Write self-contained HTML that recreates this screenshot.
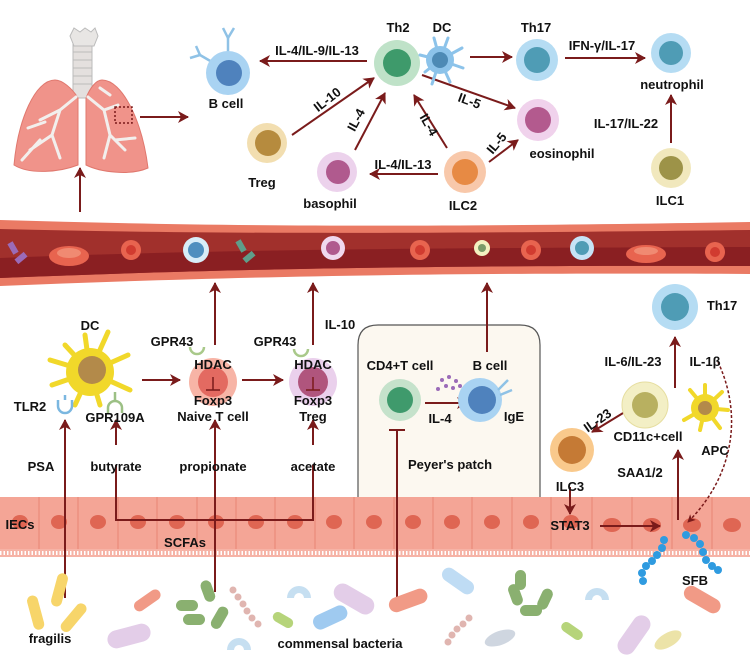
<!DOCTYPE html>
<html><head><meta charset="utf-8"><style>
html,body{margin:0;padding:0;background:#fff}
svg{display:block}
text{font-family:"Liberation Sans",Arial,sans-serif;font-weight:bold;fill:#111;font-size:13px;text-anchor:middle}
</style></head><body>
<svg width="750" height="656" viewBox="0 0 750 656" xmlns="http://www.w3.org/2000/svg">
<defs>
<marker id="a" markerWidth="8" markerHeight="8" refX="7" refY="4" orient="auto" markerUnits="userSpaceOnUse"><path d="M0,0 L8,4 L0,8 L2,4z" fill="#7a1b1b"/></marker>
<marker id="ab" markerWidth="12" markerHeight="12" refX="10" refY="6" orient="auto" markerUnits="userSpaceOnUse"><path d="M0,0 L11,6 L0,12 L3,6z" fill="#7a1b1b"/></marker>
</defs>
<g stroke="#7a1b1b" stroke-width="2" fill="none">
</g>

<!-- LUNGS -->
<rect x="73" y="40" width="19" height="58" fill="#e4e0de" stroke="#bbb"/>
<g stroke="#bbb" stroke-width="1"><line x1="73" y1="52" x2="92" y2="52"/><line x1="73" y1="60" x2="92" y2="60"/><line x1="73" y1="68" x2="92" y2="68"/><line x1="73" y1="76" x2="92" y2="76"/><line x1="73" y1="84" x2="92" y2="84"/></g>
<path d="M70,36 l4,-8 l6,4 l5,-4 l6,4 l4,-4 l3,8 l-4,10 h-20z" fill="#e8e6e4" stroke="#bbb"/>
<path d="M55,80 C35,80 18,120 14,165 C30,175 60,172 78,165 L78,98 C72,88 62,80 55,80z" fill="#f0938a" stroke="#e0786e"/>
<path d="M102,80 C122,80 142,120 148,168 C130,176 100,172 86,165 L86,98 C90,88 96,80 102,80z" fill="#f0938a" stroke="#e0786e"/>
<g stroke="#f2efed" stroke-width="3" fill="none" stroke-linecap="round">
<path d="M76,97 L60,110 L40,120 M60,110 L52,135 L30,150 M52,135 L60,158 M45,122 L28,128 M40,140 L22,160"/>
<path d="M88,97 L104,110 L118,105 M104,110 L110,135 L125,150 M110,135 L104,158 M110,95 L100,88 M115,140 L135,138"/>
</g>
<rect x="115" y="107" width="17" height="16" fill="none" stroke="#7a1b1b" stroke-dasharray="2,2" stroke-width="1.5"/>

<g stroke="#7a1b1b" stroke-width="2" fill="none" marker-end="url(#ab)">
<line x1="140" y1="117" x2="188" y2="117"/>
<line x1="80" y1="212" x2="80" y2="168"/>
<line x1="367" y1="61" x2="260" y2="61"/>
<line x1="292" y1="135" x2="374" y2="78"/>
<line x1="355" y1="150" x2="385" y2="93"/>
<line x1="470" y1="57" x2="512" y2="57"/>
<line x1="565" y1="58" x2="645" y2="58"/>
<line x1="671" y1="143" x2="671" y2="95"/>
<line x1="422" y1="75" x2="515" y2="108"/>
<line x1="447" y1="148" x2="414" y2="95"/>
<line x1="489" y1="162" x2="518" y2="140"/>
<line x1="438" y1="174" x2="370" y2="174"/>
</g>

<!-- top cells -->
<g stroke="#8fc2e6" stroke-width="2.5"><line x1="228" y1="52" x2="228" y2="38"/><line x1="228" y1="38" x2="223" y2="28"/><line x1="228" y1="38" x2="234" y2="28"/><line x1="212" y1="62" x2="200" y2="55"/><line x1="200" y1="55" x2="190" y2="58"/><line x1="200" y1="55" x2="196" y2="46"/></g>
<circle cx="228" cy="73" r="22" fill="#a9d3f2"/><circle cx="229" cy="73" r="13" fill="#4f82bd"/>
<circle cx="267" cy="143" r="20" fill="#f2deb0"/><circle cx="268" cy="143" r="13" fill="#b68b3e"/>
<circle cx="337" cy="172" r="20" fill="#ecd2ec"/><circle cx="338" cy="172" r="12" fill="#b05a8e"/>
<circle cx="397" cy="63" r="23" fill="#bfe2c8"/><circle cx="397" cy="63" r="14" fill="#3e9a6b"/>
<g stroke="#8cc3ea" stroke-width="3" stroke-linecap="round"><line x1="440" y1="60" x2="420" y2="55"/><line x1="440" y1="60" x2="425" y2="72"/><line x1="440" y1="60" x2="434" y2="38"/><line x1="440" y1="60" x2="448" y2="38"/><line x1="440" y1="60" x2="462" y2="48"/><line x1="440" y1="60" x2="463" y2="68"/><line x1="440" y1="60" x2="450" y2="82"/><line x1="440" y1="60" x2="432" y2="84"/></g>
<circle cx="440" cy="60" r="14" fill="#8cc3ea"/><circle cx="440" cy="60" r="8" fill="#4d8ab5"/>
<circle cx="537" cy="60" r="21" fill="#b5dcf3"/><circle cx="537" cy="60" r="13" fill="#4f9cb5"/>
<circle cx="671" cy="53" r="20" fill="#b5dcf3"/><circle cx="671" cy="53" r="12" fill="#4f9cb5"/>
<circle cx="538" cy="120" r="21" fill="#f0d2ec"/><circle cx="538" cy="120" r="13" fill="#b35a8e"/>
<circle cx="465" cy="172" r="21" fill="#f8c8aa"/><circle cx="465" cy="172" r="13" fill="#e78a44"/>
<circle cx="671" cy="168" r="20" fill="#f1e8bd"/><circle cx="671" cy="168" r="12" fill="#9d9348"/>

<text x="226" y="108">B cell</text>
<text x="317" y="55">IL-4/IL-9/IL-13</text>
<text x="262" y="187">Treg</text>
<text x="330" y="208">basophil</text>
<text x="398" y="32">Th2</text>
<text x="442" y="32">DC</text>
<text x="536" y="32">Th17</text>
<text x="602" y="50">IFN-γ/IL-17</text>
<text x="672" y="89">neutrophil</text>
<text x="626" y="128">IL-17/IL-22</text>
<text x="670" y="205">ILC1</text>
<text x="562" y="158">eosinophil</text>
<text x="463" y="210">ILC2</text>
<text x="403" y="169">IL-4/IL-13</text>
<text transform="translate(330,103) rotate(-38)">IL-10</text>
<text transform="translate(360,122) rotate(-62)">IL-4</text>
<text transform="translate(425,127) rotate(60)">IL-4</text>
<text transform="translate(468,105) rotate(20)">IL-5</text>
<text transform="translate(500,146) rotate(-50)">IL-5</text>

<!-- VESSEL -->
<path d="M0,220 C200,226 400,228 750,222 L750,274 C400,272 200,278 0,286z" fill="#ea7a64"/>
<path d="M0,229 C200,234 400,234 750,230 L750,266 C400,265 200,270 0,278z" fill="#a1302c"/>
<path d="M0,258 C200,250 400,248 750,247 L750,266 C400,265 200,270 0,278z" fill="#8a1f22"/>
<g fill="#9b6bb8"><rect x="10" y="242" width="6" height="12" transform="rotate(-30 13 248)"/><rect x="18" y="252" width="6" height="12" transform="rotate(50 21 258)"/></g>
<ellipse cx="69" cy="256" rx="20" ry="10" fill="#e8644f"/><ellipse cx="69" cy="253" rx="12" ry="5" fill="#f08a72"/>
<circle cx="131" cy="250" r="10" fill="#e8644f"/><circle cx="131" cy="250" r="5" fill="#d13b30"/>
<circle cx="196" cy="250" r="13" fill="#d8edf8"/><circle cx="196" cy="250" r="8" fill="#4f8fbf"/>
<g fill="#5f9e8a"><rect x="238" y="240" width="6" height="12" transform="rotate(-30 241 246)"/><rect x="246" y="251" width="6" height="12" transform="rotate(50 249 257)"/></g>
<circle cx="333" cy="248" r="12" fill="#f0d8ee"/><circle cx="333" cy="248" r="7" fill="#b05a8e"/>
<circle cx="420" cy="250" r="10" fill="#e8644f"/><circle cx="420" cy="250" r="5" fill="#d13b30"/>
<circle cx="482" cy="248" r="8" fill="#f3f0c0"/><circle cx="482" cy="248" r="4" fill="#7a9a68"/>
<circle cx="531" cy="250" r="10" fill="#e8644f"/><circle cx="531" cy="250" r="5" fill="#d13b30"/>
<circle cx="582" cy="248" r="12" fill="#c6e3f6"/><circle cx="582" cy="248" r="7" fill="#4f9cb5"/>
<ellipse cx="646" cy="254" rx="20" ry="9" fill="#e8644f"/><ellipse cx="646" cy="251" rx="12" ry="4" fill="#f08a72"/>
<circle cx="715" cy="252" r="10" fill="#e8644f"/><circle cx="715" cy="252" r="5" fill="#d13b30"/>

<!-- Peyer's patch box -->
<path d="M358,498 V345 Q358,325 378,325 H520 Q540,325 540,345 V498" fill="#fcf8f0" stroke="#555" stroke-width="1.2"/>

<!-- EPITHELIUM -->
<rect x="0" y="497" width="750" height="60" fill="#f4a596"/>
<g id="cells"></g>
<g stroke="#e78574" stroke-width="1">
<line x1="39" y1="497" x2="39" y2="550"/><line x1="78" y1="497" x2="78" y2="550"/><line x1="118" y1="497" x2="118" y2="550"/><line x1="157" y1="497" x2="157" y2="550"/><line x1="197" y1="497" x2="197" y2="550"/><line x1="236" y1="497" x2="236" y2="550"/><line x1="275" y1="497" x2="275" y2="550"/><line x1="315" y1="497" x2="315" y2="550"/><line x1="354" y1="497" x2="354" y2="550"/><line x1="394" y1="497" x2="394" y2="550"/><line x1="433" y1="497" x2="433" y2="550"/><line x1="472" y1="497" x2="472" y2="550"/><line x1="512" y1="497" x2="512" y2="550"/><line x1="551" y1="497" x2="551" y2="550"/><line x1="592" y1="497" x2="592" y2="550"/><line x1="632" y1="497" x2="632" y2="550"/><line x1="672" y1="497" x2="672" y2="550"/><line x1="712" y1="497" x2="712" y2="550"/>
</g>
<rect x="0" y="549" width="750" height="8" fill="#f6b3a6"/>
<path d="M0,553 H750" stroke="#fff" stroke-width="4" stroke-dasharray="1.5,2"/>
<g fill="#df6653">
<ellipse cx="20" cy="522" rx="8" ry="7"/><ellipse cx="59" cy="522" rx="8" ry="7"/><ellipse cx="98" cy="522" rx="8" ry="7"/><ellipse cx="138" cy="522" rx="8" ry="7"/><ellipse cx="177" cy="522" rx="8" ry="7"/><ellipse cx="216" cy="522" rx="8" ry="7"/><ellipse cx="256" cy="522" rx="8" ry="7"/><ellipse cx="295" cy="522" rx="8" ry="7"/><ellipse cx="334" cy="522" rx="8" ry="7"/><ellipse cx="374" cy="522" rx="8" ry="7"/><ellipse cx="413" cy="522" rx="8" ry="7"/><ellipse cx="452" cy="522" rx="8" ry="7"/><ellipse cx="492" cy="522" rx="8" ry="7"/><ellipse cx="531" cy="522" rx="8" ry="7"/><ellipse cx="571" cy="522" rx="8" ry="7"/><ellipse cx="612" cy="525" rx="9" ry="7"/><ellipse cx="652" cy="525" rx="9" ry="7"/><ellipse cx="692" cy="525" rx="9" ry="7"/><ellipse cx="732" cy="525" rx="9" ry="7"/>
</g>

<!-- middle arrows -->
<g stroke="#7a1b1b" stroke-width="2" fill="none" marker-end="url(#ab)">
<line x1="215" y1="345" x2="215" y2="283"/>
<line x1="313" y1="345" x2="313" y2="283"/>
<line x1="487" y1="352" x2="487" y2="283"/>
<line x1="142" y1="380" x2="180" y2="380"/>
<line x1="242" y1="380" x2="283" y2="380"/>
<line x1="65" y1="598" x2="65" y2="420"/>
<line x1="116" y1="445" x2="116" y2="420"/>
<line x1="215" y1="592" x2="215" y2="420"/>
<line x1="313" y1="445" x2="313" y2="420"/>
<line x1="425" y1="403" x2="467" y2="403"/>
<line x1="675" y1="388" x2="675" y2="337"/>
<line x1="628" y1="410" x2="592" y2="432"/>
<line x1="678" y1="520" x2="678" y2="450"/>
<line x1="570" y1="487" x2="570" y2="514"/>
<line x1="600" y1="526" x2="660" y2="526"/>
</g>
<path d="M116,465 V520 H313 V465" stroke="#7a1b1b" stroke-width="2" fill="none"/>
<line x1="397" y1="598" x2="397" y2="430" stroke="#7a1b1b" stroke-width="2"/>
<line x1="389" y1="430" x2="405" y2="430" stroke="#7a1b1b" stroke-width="2"/>
<path d="M718,362 C745,420 730,480 688,522" stroke="#7a1b1b" stroke-width="1.5" stroke-dasharray="3,2" fill="none" marker-end="url(#a)"/>

<!-- middle cells -->
<g stroke="#f1d82a" stroke-width="5" stroke-linecap="round"><line x1="90" y1="372" x2="65" y2="345"/><line x1="90" y1="372" x2="85" y2="335"/><line x1="90" y1="372" x2="108" y2="332"/><line x1="90" y1="372" x2="128" y2="355"/><line x1="90" y1="372" x2="130" y2="390"/><line x1="90" y1="372" x2="100" y2="405"/><line x1="90" y1="372" x2="75" y2="405"/><line x1="90" y1="372" x2="52" y2="385"/><line x1="90" y1="372" x2="50" y2="360"/></g>
<circle cx="90" cy="372" r="24" fill="#f1d82a"/><circle cx="92" cy="370" r="14" fill="#b38a4a"/>
<path d="M58,400 v6 a7,7 0 0 0 14,0 v-6" stroke="#7bb7e0" stroke-width="2.5" fill="none"/><line x1="65" y1="395" x2="65" y2="400" stroke="#7bb7e0" stroke-width="2.5"/>
<path d="M108,413 v-5 a7,7 0 0 1 14,0 v5" stroke="#9cc085" stroke-width="2.5" fill="none"/><line x1="115" y1="392" x2="115" y2="401" stroke="#9cc085" stroke-width="2.5"/>
<circle cx="213" cy="382" r="24" fill="#f7b4a6"/><circle cx="213" cy="382" r="15" fill="#e36a61"/>
<circle cx="313" cy="382" r="24" fill="#ead0ec"/><circle cx="313" cy="382" r="15" fill="#b0557d"/>
<path d="M190,347 a7,7 0 0 0 14,0" stroke="#a9c98a" stroke-width="2.5" fill="none"/>
<path d="M294,349 a7,7 0 0 0 14,0" stroke="#a9c98a" stroke-width="2.5" fill="none"/>
<g stroke="#7a1b1b" stroke-width="1.5"><line x1="213" y1="377" x2="213" y2="390"/><line x1="206" y1="390" x2="220" y2="390"/><line x1="313" y1="377" x2="313" y2="390"/><line x1="306" y1="390" x2="320" y2="390"/></g>
<circle cx="400" cy="400" r="21" fill="#c5e2cb"/><circle cx="400" cy="400" r="13" fill="#3f9a6c"/>
<circle cx="480" cy="400" r="22" fill="#a9d3f2"/><circle cx="482" cy="400" r="14" fill="#4f82bd"/>
<g stroke="#8fc2e6" stroke-width="2.5"><line x1="498" y1="390" x2="508" y2="380"/><line x1="500" y1="395" x2="512" y2="390"/></g>
<g fill="#9b6bb8"><circle cx="442" cy="380" r="2"/><circle cx="449" cy="377" r="2"/><circle cx="456" cy="381" r="2"/><circle cx="446" cy="386" r="2"/><circle cx="453" cy="388" r="2"/><circle cx="460" cy="386" r="2"/><circle cx="438" cy="389" r="2"/></g>
<circle cx="675" cy="307" r="23" fill="#b5dcf3"/><circle cx="675" cy="307" r="14" fill="#4f9cb5"/>
<circle cx="645" cy="405" r="23" fill="#f3efc5" stroke="#e6dea0"/><circle cx="645" cy="405" r="13" fill="#b8b060"/>
<g stroke="#f1d82a" stroke-width="4" stroke-linecap="round"><line x1="705" y1="408" x2="690" y2="390"/><line x1="705" y1="408" x2="705" y2="385"/><line x1="705" y1="408" x2="722" y2="392"/><line x1="705" y1="408" x2="728" y2="410"/><line x1="705" y1="408" x2="720" y2="428"/><line x1="705" y1="408" x2="700" y2="430"/><line x1="705" y1="408" x2="684" y2="420"/></g>
<circle cx="705" cy="408" r="14" fill="#f1d82a"/><circle cx="705" cy="408" r="7" fill="#b38a4a"/>
<circle cx="572" cy="450" r="22" fill="#f9c98c"/><circle cx="572" cy="450" r="14" fill="#c57a35"/>

<!-- SFB -->
<g fill="#2f9be0">
<circle cx="664" cy="540" r="4"/><circle cx="662" cy="548" r="4"/><circle cx="657" cy="555" r="4"/><circle cx="652" cy="561" r="4"/><circle cx="646" cy="566" r="4"/><circle cx="642" cy="573" r="4"/><circle cx="643" cy="581" r="4"/>
<circle cx="686" cy="535" r="4"/><circle cx="694" cy="538" r="4"/><circle cx="700" cy="544" r="4"/><circle cx="703" cy="552" r="4"/><circle cx="706" cy="560" r="4"/><circle cx="712" cy="566" r="4"/><circle cx="718" cy="570" r="4"/>
</g>

<!-- bacteria -->
<g>
<rect x="30" y="595" width="11" height="35" rx="5.5" fill="#f7d56a" transform="rotate(-15 36 612)"/>
<rect x="54" y="573" width="11" height="34" rx="5.5" fill="#f7d56a" transform="rotate(15 60 590)"/>
<rect x="68" y="601" width="11" height="34" rx="5.5" fill="#f7d56a" transform="rotate(40 74 618)"/>
<rect x="132" y="595" width="30" height="11" rx="5.5" fill="#f19a86" transform="rotate(-35 147 600)"/>
<rect x="176" y="600" width="22" height="11" rx="5.5" fill="#8ab070"/>
<rect x="202" y="580" width="11" height="22" rx="5.5" fill="#8ab070" transform="rotate(-20 208 590)"/>
<rect x="214" y="606" width="11" height="24" rx="5.5" fill="#8ab070" transform="rotate(30 220 618)"/>
<rect x="183" y="614" width="22" height="11" rx="5.5" fill="#8ab070"/>
<g fill="#e0b5b0"><circle cx="233" cy="590" r="3.5"/><circle cx="238" cy="597" r="3.5"/><circle cx="243" cy="604" r="3.5"/><circle cx="247" cy="611" r="3.5"/><circle cx="252" cy="618" r="3.5"/><circle cx="258" cy="624" r="3.5"/></g>
<rect x="107" y="627" width="44" height="18" rx="9" fill="#e3cde8" transform="rotate(-15 129 636)"/>
<path d="M287,598 a12,12 0 0 1 24,0 h-7 a5,5 0 0 0 -10,0z" fill="#c6dff1"/>
<path d="M227,650 a12,12 0 0 1 24,0 h-7 a5,5 0 0 0 -10,0z" fill="#c6dff1"/>
<rect x="272" y="615" width="22" height="10" rx="5" fill="#b6d47a" transform="rotate(30 283 620)"/>
<rect x="312" y="610" width="36" height="15" rx="7" fill="#9fcaf0" transform="rotate(-25 330 617)"/>
<rect x="332" y="590" width="44" height="18" rx="9" fill="#e3cde8" transform="rotate(30 354 599)"/>
<rect x="388" y="593" width="40" height="15" rx="7.5" fill="#f19a86" transform="rotate(-20 408 600)"/>
<rect x="440" y="574" width="36" height="14" rx="7" fill="#bfdcf4" transform="rotate(35 458 581)"/>
<rect x="510" y="584" width="11" height="22" rx="5.5" fill="#8ab070" transform="rotate(-20 515 595)"/>
<rect x="520" y="605" width="22" height="11" rx="5.5" fill="#8ab070"/>
<rect x="540" y="588" width="11" height="22" rx="5.5" fill="#8ab070" transform="rotate(25 545 598)"/>
<rect x="515" y="570" width="11" height="20" rx="5.5" fill="#8ab070"/>
<g fill="#e0b5b0"><circle cx="448" cy="642" r="3.5"/><circle cx="452" cy="635" r="3.5"/><circle cx="457" cy="629" r="3.5"/><circle cx="463" cy="624" r="3.5"/><circle cx="469" cy="618" r="3.5"/></g>
<ellipse cx="500" cy="638" rx="16" ry="7" fill="#cfd6e0" transform="rotate(-20 500 638)"/>
<path d="M585,600 a12,12 0 0 1 24,0 h-7 a5,5 0 0 0 -10,0z" fill="#c6dff1"/>
<rect x="560" y="626" width="24" height="10" rx="5" fill="#b6d47a" transform="rotate(35 572 631)"/>
<rect x="682" y="592" width="40" height="15" rx="7.5" fill="#f19a86" transform="rotate(30 702 600)"/>
<rect x="612" y="626" width="44" height="18" rx="9" fill="#e3cde8" transform="rotate(-55 634 635)"/>
<ellipse cx="668" cy="640" rx="15" ry="7" fill="#ece3a8" transform="rotate(-30 668 640)"/>
</g>

<!-- middle labels -->
<text x="90" y="330">DC</text>
<text x="30" y="411">TLR2</text>
<text x="115" y="422">GPR109A</text>
<text x="172" y="346">GPR43</text>
<text x="213" y="369" font-size="12.5">HDAC</text>
<text x="213" y="405">Foxp3</text>
<text x="213" y="421">Naive T cell</text>
<text x="275" y="346">GPR43</text>
<text x="313" y="369" font-size="12.5">HDAC</text>
<text x="313" y="405">Foxp3</text>
<text x="313" y="421">Treg</text>
<text x="340" y="329">IL-10</text>
<text x="400" y="370">CD4+T cell</text>
<text x="490" y="370">B cell</text>
<text x="440" y="423">IL-4</text>
<text x="514" y="421">IgE</text>
<text x="450" y="469">Peyer's patch</text>
<text x="722" y="310">Th17</text>
<text x="633" y="366">IL-6/IL-23</text>
<text x="705" y="366">IL-1β</text>
<text x="648" y="441">CD11c+cell</text>
<text x="715" y="455">APC</text>
<text transform="translate(600,424) rotate(-35)">IL-23</text>
<text x="570" y="491">ILC3</text>
<text x="640" y="477">SAA1/2</text>
<text x="41" y="471">PSA</text>
<text x="116" y="471">butyrate</text>
<text x="213" y="471">propionate</text>
<text x="313" y="471">acetate</text>
<text x="20" y="529">IECs</text>
<text x="185" y="547">SCFAs</text>
<text x="570" y="530">STAT3</text>
<text x="695" y="585">SFB</text>
<text x="50" y="643">fragilis</text>
<text x="340" y="648">commensal bacteria</text>
</svg>
</body></html>
